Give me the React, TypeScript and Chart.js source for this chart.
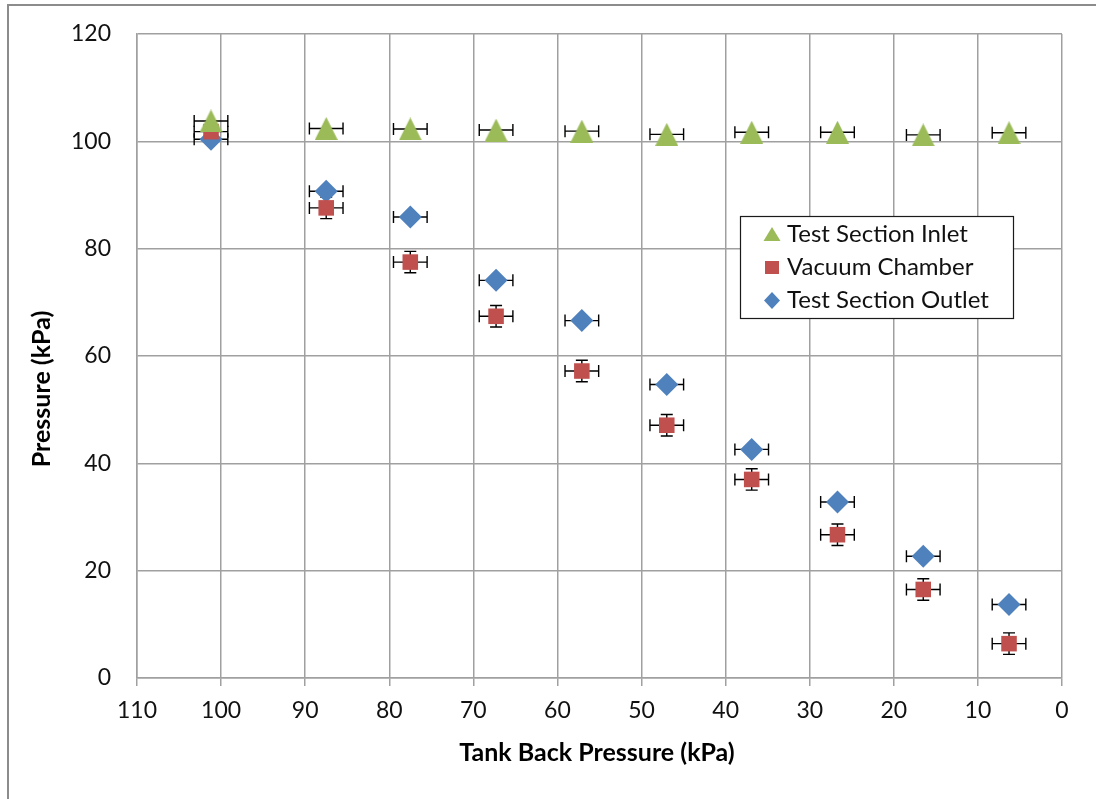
import { useEffect, useRef } from "react";
import { Chart, registerables } from "chart.js";

Chart.register(...registerables);

// Tank back pressure (kPa) for each test run
const backPressure = [101.2, 87.5, 77.5, 67.3, 57.1, 47.0, 36.9, 26.7, 16.5, 6.3];

// Measured pressures (kPa)
const inletPressure = [103.8, 102.4, 102.3, 102.1, 101.9, 101.3, 101.7, 101.7, 101.2, 101.6];
const chamberPressure = [101.8, 87.6, 77.5, 67.4, 57.2, 47.1, 37.0, 26.7, 16.5, 6.4];
const outletPressure = [100.4, 90.7, 85.9, 74.1, 66.6, 54.7, 42.6, 32.8, 22.7, 13.7];

// Instrument uncertainty (kPa): horizontal on every series, vertical on the chamber only
const xError = 2;
const yErrors = [0, 2, 0];

const seriesLabels = ["Test Section Inlet", "Vacuum Chamber", "Test Section Outlet"];
const seriesColors = ["#9bbb59", "#c0504d", "#4f81bd"];

const xAxisTitle = "Tank Back Pressure (kPa)";
const yAxisTitle = "Pressure (kPa)";

const FONT = "Lato, 'Liberation Sans', sans-serif";
const GRID = "#a0a0a0";

function makeTriangle(size: number, color: string): HTMLCanvasElement {
  const c = document.createElement("canvas");
  c.width = size;
  c.height = size;
  const g = c.getContext("2d")!;
  g.fillStyle = color;
  g.beginPath();
  g.moveTo(size / 2, 0);
  g.lineTo(size, size);
  g.lineTo(0, size);
  g.closePath();
  g.fill();
  return c;
}

function drawMarker(ctx: CanvasRenderingContext2D, kind: number, x: number, y: number) {
  ctx.fillStyle = seriesColors[kind];
  ctx.beginPath();
  if (kind === 0) {
    ctx.moveTo(x, y - 7);
    ctx.lineTo(x + 8.5, y + 7);
    ctx.lineTo(x - 8.5, y + 7);
  } else if (kind === 1) {
    ctx.rect(x - 7, y - 6.5, 14, 13);
  } else {
    ctx.moveTo(x, y - 8.5);
    ctx.lineTo(x + 8, y);
    ctx.lineTo(x, y + 8.5);
    ctx.lineTo(x - 8, y);
  }
  ctx.closePath();
  ctx.fill();
}

const framePlugin = {
  id: "frame",
  beforeDraw(chart: any) {
    const { ctx, width, height } = chart;
    ctx.save();
    ctx.fillStyle = "#ffffff";
    ctx.fillRect(0, 0, width, height);
    ctx.fillStyle = "#8c8c8c";
    ctx.fillRect(7, 4, 2, height - 4);
    ctx.fillRect(7, 4, width - 7, 2);
    ctx.restore();
  },
};

const errorBarPlugin = {
  id: "errorBars",
  beforeDatasetsDraw(chart: any) {
    const { ctx } = chart;
    const xs = chart.scales.x;
    const ys = chart.scales.y;
    const cap = 6;
    ctx.save();
    ctx.strokeStyle = "#000000";
    ctx.lineWidth = 1.4;
    chart.data.datasets.forEach((ds: any, di: number) => {
      const yErr = yErrors[di];
      ds.data.forEach((p: any) => {
        const px = xs.getPixelForValue(p.x);
        const py = ys.getPixelForValue(p.y);
        const x1 = xs.getPixelForValue(p.x - xError);
        const x2 = xs.getPixelForValue(p.x + xError);
        ctx.beginPath();
        ctx.moveTo(x1, py);
        ctx.lineTo(x2, py);
        ctx.moveTo(x1, py - cap);
        ctx.lineTo(x1, py + cap);
        ctx.moveTo(x2, py - cap);
        ctx.lineTo(x2, py + cap);
        if (yErr > 0) {
          const y1 = ys.getPixelForValue(p.y - yErr);
          const y2 = ys.getPixelForValue(p.y + yErr);
          ctx.moveTo(px, y1);
          ctx.lineTo(px, y2);
          ctx.moveTo(px - cap, y1);
          ctx.lineTo(px + cap, y1);
          ctx.moveTo(px - cap, y2);
          ctx.lineTo(px + cap, y2);
        }
        ctx.stroke();
      });
    });
    ctx.restore();
  },
};

const annotationPlugin = {
  id: "titlesAndLegend",
  afterDraw(chart: any) {
    const { ctx } = chart;
    ctx.save();
    // axis titles
    ctx.fillStyle = "#000000";
    ctx.font = `bold 25px ${FONT}`;
    ctx.textAlign = "center";
    ctx.textBaseline = "middle";
    ctx.fillText(xAxisTitle, 597, 753);
    ctx.translate(42, 389);
    ctx.rotate(-Math.PI / 2);
    ctx.fillText(yAxisTitle, 0, 0);
    ctx.setTransform(1, 0, 0, 1, 0, 0);

    // legend box
    const bx = 740.5, by = 216.5, bw = 273, bh = 102;
    ctx.fillStyle = "#ffffff";
    ctx.fillRect(bx, by, bw, bh);
    ctx.strokeStyle = "#1a1a1a";
    ctx.lineWidth = 1.2;
    ctx.strokeRect(bx, by, bw, bh);
    const rows = [234, 267.5, 300.5];
    ctx.font = `24px ${FONT}`;
    ctx.textAlign = "left";
    ctx.textBaseline = "middle";
    seriesLabels.forEach((label, i) => {
      drawMarker(ctx, i, 772, rows[i]);
      ctx.fillStyle = "#111111";
      ctx.fillText(label, 787, rows[i]);
    });
    ctx.restore();
  },
};

export default function App() {
  const canvasRef = useRef<HTMLCanvasElement | null>(null);

  useEffect(() => {
    const canvas = canvasRef.current;
    if (!canvas) return;
    const triangle = makeTriangle(23, seriesColors[0]);
    const toPoints = (ys: number[]) => backPressure.map((x, i) => ({ x, y: ys[i] }));

    const chart = new Chart(canvas, {
      type: "scatter",
      data: {
        datasets: [
          {
            label: seriesLabels[0],
            data: toPoints(inletPressure),
            pointStyle: triangle as any,
            backgroundColor: seriesColors[0],
            borderColor: seriesColors[0],
          },
          {
            label: seriesLabels[1],
            data: toPoints(chamberPressure),
            pointStyle: "rect",
            pointRadius: 11,
            pointBorderWidth: 0,
            backgroundColor: seriesColors[1],
            borderColor: seriesColors[1],
          },
          {
            label: seriesLabels[2],
            data: toPoints(outletPressure),
            pointStyle: "rectRot",
            pointRadius: 11.5,
            pointBorderWidth: 0,
            backgroundColor: seriesColors[2],
            borderColor: seriesColors[2],
          },
        ],
      },
      options: {
        responsive: false,
        animation: false,
        events: [],
        layout: { padding: { left: 0, top: 34, right: 34, bottom: 0 } },
        plugins: {
          legend: { display: false },
          tooltip: { enabled: false },
          title: { display: false },
        },
        scales: {
          x: {
            type: "linear",
            reverse: true,
            min: 0,
            max: 110,
            afterFit: (s: any) => {
              s.height = 121;
              s.paddingLeft = 0;
              s.paddingRight = 0;
            },
            ticks: {
              stepSize: 10,
              color: "#111111",
              font: { family: FONT, size: 23 },
              padding: 11,
              maxRotation: 0,
            },
            grid: { color: GRID, lineWidth: 1.5, tickLength: 8, drawTicks: true },
            border: { color: GRID, width: 1.5 },
          },
          y: {
            type: "linear",
            min: 0,
            max: 120,
            afterFit: (s: any) => {
              s.width = 137;
              s.paddingTop = 0;
              s.paddingBottom = 0;
            },
            ticks: {
              stepSize: 20,
              color: "#111111",
              font: { family: FONT, size: 23 },
              padding: 26,
            },
            grid: { color: GRID, lineWidth: 1.5, drawTicks: false },
            border: { color: GRID, width: 1.5 },
          },
        },
      },
      plugins: [framePlugin, errorBarPlugin, annotationPlugin],
    });

    return () => chart.destroy();
  }, []);

  return (
    <div style={{ position: "fixed", left: 0, top: 0, width: 1096, height: 799, background: "#ffffff" }}>
      <canvas ref={canvasRef} width={1096} height={799} style={{ width: 1096, height: 799, display: "block" }} />
    </div>
  );
}
